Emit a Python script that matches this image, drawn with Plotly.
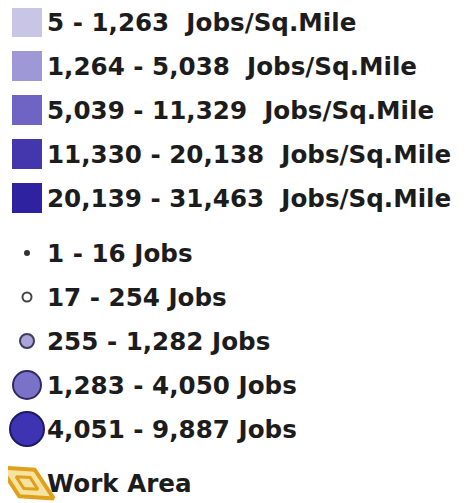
import plotly.graph_objects as go

density_labels = [
    "5 - 1,263\u00a0 Jobs/Sq.Mile",
    "1,264 - 5,038\u00a0 Jobs/Sq.Mile",
    "5,039 - 11,329\u00a0 Jobs/Sq.Mile",
    "11,330 - 20,138\u00a0 Jobs/Sq.Mile",
    "20,139 - 31,463\u00a0 Jobs/Sq.Mile",
]
density_colors = ["#c8c5e6", "#9e98d6", "#6f64c3", "#4437ad", "#2f22a0"]

count_labels = [
    "1 - 16 Jobs",
    "17 - 254 Jobs",
    "255 - 1,282 Jobs",
    "1,283 - 4,050 Jobs",
    "4,051 - 9,887 Jobs",
]
count_colors = ["#333333", "#ffffff", "#a9a5d8", "#7a72c8", "#3e33b2"]
count_sizes = [4, 9, 14, 28, 34]
count_line = ["#333333", "#444444", "#3d3a5e", "#2f2a66", "#1f1a66"]

area_label = "Work Area"

# page body has an 8px default margin; shift the axis so coordinates match page pixels
PAGE_W, PAGE_H, OFF = 465, 503, 8
W, H = PAGE_W - OFF, PAGE_H - OFF
row_gap = 44
sq_y0 = 22
ci_y0 = 253
area_y = 483
text_dy = 3
text_x = 47
mark_x = 27
FONT = dict(family="DejaVu Sans", size=24.6, color="#1c1c1c", weight=700)

fig = go.Figure()

sq_y = [sq_y0 + row_gap * i for i in range(len(density_labels))]
fig.add_trace(go.Scatter(
    x=[mark_x] * len(sq_y), y=sq_y, mode="markers",
    marker=dict(symbol="square", size=30, color=density_colors, opacity=1,
                line=dict(width=0)),
    hoverinfo="skip"))
fig.add_trace(go.Scatter(
    x=[text_x] * len(sq_y), y=[v + text_dy for v in sq_y], mode="text",
    text=density_labels, textposition="middle right", textfont=FONT,
    hoverinfo="skip"))

ci_y = [ci_y0 + row_gap * i for i in range(len(count_labels))]
fig.add_trace(go.Scatter(
    x=[mark_x] * len(ci_y), y=ci_y, mode="markers",
    marker=dict(symbol="circle", size=count_sizes, color=count_colors, opacity=1,
                line=dict(width=2, color=count_line)),
    hoverinfo="skip"))
fig.add_trace(go.Scatter(
    x=[text_x] * len(ci_y), y=[v + text_dy for v in ci_y], mode="text",
    text=count_labels, textposition="middle right", textfont=FONT,
    hoverinfo="skip"))

fig.add_trace(go.Scatter(
    x=[mark_x], y=[area_y], mode="markers",
    marker=dict(symbol="diamond-wide", size=44, angle=30, color="#f6e3a0",
                opacity=1, line=dict(width=4, color="#e0a01c")),
    hoverinfo="skip"))
fig.add_trace(go.Scatter(
    x=[mark_x], y=[area_y], mode="markers",
    marker=dict(symbol="diamond-wide-open", size=18, angle=30, color="#e0a01c",
                opacity=1, line=dict(width=3, color="#e0a01c")),
    hoverinfo="skip"))
fig.add_trace(go.Scatter(
    x=[text_x], y=[area_y + text_dy], mode="text", text=[area_label],
    textposition="middle right", textfont=FONT, hoverinfo="skip"))

fig.update_layout(
    width=W, height=H, margin=dict(l=0, r=0, t=0, b=0),
    paper_bgcolor="white", plot_bgcolor="white", showlegend=False,
    xaxis=dict(range=[OFF, PAGE_W], visible=False, fixedrange=True),
    yaxis=dict(range=[PAGE_H, OFF], visible=False, fixedrange=True),
)

fig.write_html("out.html", config={"displayModeBar": False})
